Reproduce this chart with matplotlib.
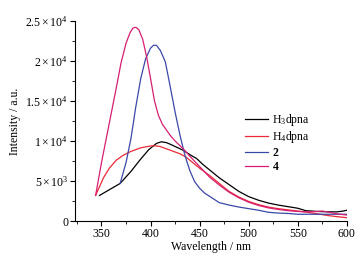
import numpy as np
import matplotlib
matplotlib.use("Agg")
import matplotlib.pyplot as plt
from matplotlib.ticker import FixedLocator, FixedFormatter, MultipleLocator

plt.rcParams['font.family'] = ['Liberation Serif', 'DejaVu Serif']
plt.rcParams['mathtext.fontset'] = 'custom'
plt.rcParams['mathtext.rm'] = 'Liberation Serif'
plt.rcParams['mathtext.it'] = 'Liberation Serif:italic'
plt.rcParams['mathtext.bf'] = 'Liberation Serif:bold'

# H3dpna (black)
wl_h3 = [348, 369, 380, 389, 398, 406, 411, 416, 420, 427, 433, 440, 447, 453, 460,
         470, 480, 490, 500, 510, 520, 530, 540, 550, 558, 570, 582, 590, 596, 600]
int_h3 = [3200, 4700, 6200, 7600, 8900, 9700, 9900, 9800, 9600, 9200, 8850, 8300,
          7800, 7100, 6400, 5400, 4550, 3700, 3050, 2600, 2250, 2000, 1800, 1600,
          1300, 1200, 1150, 1150, 1250, 1350]

# H4dpna (red)
wl_h4 = [344, 348, 352, 358, 365, 372, 380, 390, 400, 405, 410, 420, 430, 436, 445,
         450, 460, 470, 480, 490, 500, 510, 520, 530, 540, 550, 560, 570, 580, 590, 600]
int_h4 = [3200, 4300, 5400, 6600, 7600, 8200, 8700, 9150, 9380, 9400, 9300, 8850,
          8400, 8000, 7100, 6600, 5700, 4700, 3700, 3000, 2450, 2050, 1750, 1550,
          1400, 1250, 1100, 900, 700, 550, 420]

# complex 2 (blue)
wl_2 = [369, 375, 380, 385, 390, 395, 400, 403, 406, 410, 415, 420, 425, 430, 435,
        440, 445, 450, 455, 460, 470, 480, 490, 500, 510, 520, 530, 540, 550, 560,
        570, 580, 590, 600]
int_2 = [4700, 7300, 10300, 14300, 17800, 20300, 21600, 21950, 21950, 21300, 19900,
         16800, 13600, 10700, 8200, 6300, 4900, 4100, 3500, 3100, 2300, 2000, 1750,
         1550, 1350, 1100, 1000, 950, 850, 850, 850, 850, 850, 850]

# complex 4 (magenta)
wl_4 = [344, 350, 355, 360, 365, 370, 375, 379, 382, 385, 388, 392, 396, 400, 404,
        408, 412, 416, 420, 425, 430, 435, 440, 450, 460, 470, 480, 490, 500, 510,
        520, 530, 540, 550, 560, 570, 575, 580, 590, 600]
int_4 = [3200, 7300, 10400, 13500, 16600, 19800, 22200, 23500, 24100, 24200, 23900,
         22700, 20500, 17800, 15000, 13200, 12100, 11400, 10700, 10000, 9400, 8800,
         8100, 6800, 5500, 4500, 3600, 2900, 2350, 1950, 1650, 1450, 1300, 1200,
         1150, 1200, 1250, 1150, 900, 750]

ytick_vals = [0, 5000, 10000, 15000, 20000, 25000]
ytick_labels = ['0', r'$5\times10^3$', r'$1\times10^4$', r'$1.5\times10^4$',
                r'$2\times10^4$', r'$2.5\times10^4$']

fig = plt.figure(figsize=(3.64, 2.61), dpi=100)
ax = fig.add_axes([0.206, 0.153, 0.747, 0.767])

lw = 0.9
ax.plot(wl_h3, int_h3, color='black', lw=lw, label=r'H$_3$dpna')
ax.plot(wl_h4, int_h4, color='#ea2a36', lw=lw, label=r'H$_4$dpna')
ax.plot(wl_2, int_2, color='#3a48a8', lw=lw, label=r'$\mathbf{2}$')
ax.plot(wl_4, int_4, color='#d61e72', lw=lw, label=r'$\mathbf{4}$')

ax.set_xlim(323, 600)
ax.set_ylim(0, 25000)
ax.xaxis.set_major_locator(MultipleLocator(50))
ax.xaxis.set_minor_locator(MultipleLocator(25))
ax.yaxis.set_major_locator(FixedLocator(ytick_vals))
ax.yaxis.set_major_formatter(FixedFormatter(ytick_labels))
ax.yaxis.set_minor_locator(MultipleLocator(2500))
ax.tick_params(which='major', direction='out', length=3.5, width=0.8, labelsize=8.5, pad=1.5)
ax.tick_params(which='minor', direction='out', length=2, width=0.6)

for s in ['top', 'right']:
    ax.spines[s].set_visible(False)
for s in ['left', 'bottom']:
    ax.spines[s].set_linewidth(0.8)

ax.set_xlabel('Wavelength / nm', fontsize=8.5, labelpad=1)
ax.set_ylabel('Intensity / a.u.', fontsize=8.5, labelpad=3)

ax.legend(loc='upper left', bbox_to_anchor=(0.607, 0.57), frameon=False, fontsize=8.5,
          handlelength=1.95, handletextpad=0.35, labelspacing=0.15, borderaxespad=0)

fig.savefig('out.png', dpi=100)
